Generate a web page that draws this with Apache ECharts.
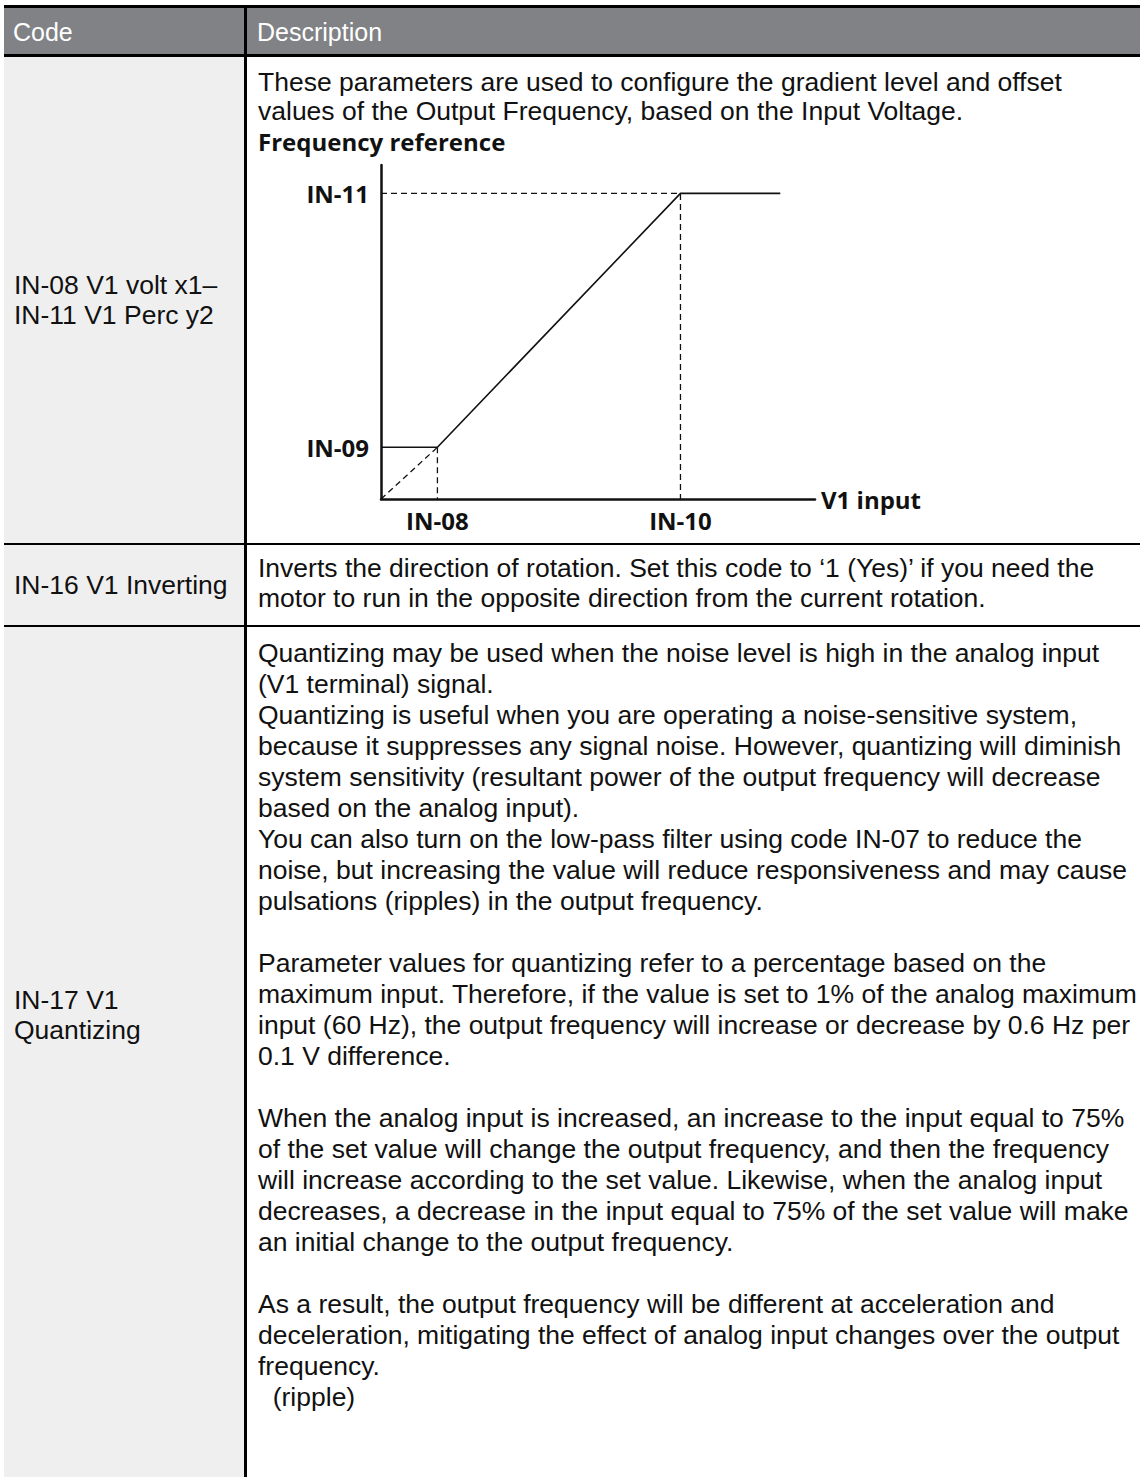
<!DOCTYPE html>
<html><head><meta charset="utf-8">
<script src="https://cdn.jsdelivr.net/npm/echarts@6/dist/echarts.min.js"></script>
<style>
html,body{margin:0;padding:0;background:#fff;}
#page{position:relative;width:1140px;height:1477px;overflow:hidden;background:#fff;font-family:"Liberation Sans",Arial,sans-serif;color:#111;}
.box{position:absolute;}
.t{position:absolute;font-size:26.5px;line-height:26px;white-space:pre;}
.h{position:absolute;font-size:25px;line-height:30px;color:#fff;white-space:pre;}
#chart{position:absolute;left:247px;top:100px;width:893px;height:442px;}
</style></head><body>
<div id="page">
  <div class="box" style="left:4px;top:57px;width:240px;height:1420px;background:#efefef"></div>
  <div class="box" style="left:4px;top:8px;width:1136px;height:47px;background:#808285"></div>
  <div class="box" style="left:4px;top:5px;width:1136px;height:3px;background:#000"></div>
  <div class="box" style="left:4px;top:54px;width:1136px;height:3px;background:#000"></div>
  <div class="box" style="left:4px;top:543px;width:1136px;height:2px;background:#000"></div>
  <div class="box" style="left:4px;top:625px;width:1136px;height:2px;background:#000"></div>
  <div class="box" style="left:244px;top:8px;width:3px;height:1469px;background:#000"></div>
  <div class="h" style="left:13px;top:17px">Code</div>
  <div class="h" style="left:257px;top:17px">Description</div>
  <div id="chart"></div>
  <div id="texts"></div>
</div>
<script>
// ---- chart data ----
const xTickNames = ['IN-08', 'IN-10'];
const xTickValues = [13, 69];
const yTickNames = ['IN-09', 'IN-11'];
const yTickValues = [15.5, 91.5];
const responseLine = [[0, 15.5], [13, 15.5], [69, 91.5], [92, 91.5]];
const offsetGuide = [[0, 0], [13, 15.5]];
const x1Guide = [[13, 15.5], [13, 0]];
const x2y2Guide = [[0, 91.5], [69, 91.5], [69, 0]];
const axisMax = 100;

// ---- table text ----
const row1Code = ['IN-08 V1 volt x1\u2013', 'IN-11 V1 Perc y2'];
const row1Desc = ['These parameters are used to configure the gradient level and offset',
  'values of the Output Frequency, based on the Input Voltage.'];
const row2Code = ['IN-16 V1 Inverting'];
const row2Desc = ['Inverts the direction of rotation. Set this code to \u20181 (Yes)\u2019 if you need the',
  'motor to run in the opposite direction from the current rotation.'];
const row3Code = ['IN-17 V1', 'Quantizing'];
const row3Desc = [
  'Quantizing may be used when the noise level is high in the analog input',
  '(V1 terminal) signal.',
  'Quantizing is useful when you are operating a noise-sensitive system,',
  'because it suppresses any signal noise. However, quantizing will diminish',
  'system sensitivity (resultant power of the output frequency will decrease',
  'based on the analog input).',
  'You can also turn on the low-pass filter using code IN-07 to reduce the',
  'noise, but increasing the value will reduce responsiveness and may cause',
  'pulsations (ripples) in the output frequency.',
  '',
  'Parameter values for quantizing refer to a percentage based on the',
  'maximum input. Therefore, if the value is set to 1% of the analog maximum',
  'input (60 Hz), the output frequency will increase or decrease by 0.6 Hz per',
  '0.1 V difference.',
  '',
  'When the analog input is increased, an increase to the input equal to 75%',
  'of the set value will change the output frequency, and then the frequency',
  'will increase according to the set value. Likewise, when the analog input',
  'decreases, a decrease in the input equal to 75% of the set value will make',
  'an initial change to the output frequency.',
  '',
  'As a result, the output frequency will be different at acceleration and',
  'deceleration, mitigating the effect of analog input changes over the output',
  'frequency.',
  '  (ripple)'
];

// one div per line, each line centred on firstY + i * step
function place(lines, left, firstY, step) {
  const host = document.getElementById('texts');
  lines.forEach((s, i) => {
    if (!s) return;
    const d = document.createElement('div');
    d.className = 't';
    d.style.left = left + 'px';
    d.style.top = (firstY + i * step - 13) + 'px';
    d.textContent = s;
    host.appendChild(d);
  });
}
place(row1Code, 14, 285, 30);
place(row1Desc, 258, 82, 29);
place(row2Code, 14, 585, 30);
place(row2Desc, 258, 568, 29.5);
place(row3Code, 14, 1000, 30);
place(row3Desc, 258, 653, 31);

const labelFont = { color: '#111', fontFamily: 'Open Sans', fontWeight: 'bold', fontSize: 24 };
const solid = { color: '#111', width: 1.6 };
const dashed = { color: '#111', width: 1.3, type: [6, 4] };
const chart = echarts.init(document.getElementById('chart'), null, { renderer: 'svg' });
chart.setOption({
  animation: false,
  title: { text: 'Frequency reference', left: 11, top: 29, padding: 0,
    textStyle: Object.assign({}, labelFont, { fontSize: 24, lineHeight: 24 }) },
  grid: { left: 134, top: 65, width: 434, height: 334 },
  xAxis: {
    type: 'value', min: 0, max: axisMax,
    axisLine: { show: true, lineStyle: { color: '#111', width: 2.5 } },
    axisTick: { show: false }, splitLine: { show: false },
    axisLabel: Object.assign({}, labelFont, { margin: 9,
      customValues: xTickValues,
      formatter: v => xTickNames[xTickValues.indexOf(v)] || '' }),
    name: 'V1 input', nameLocation: 'end', nameGap: 6,
    nameTextStyle: Object.assign({}, labelFont, { fontSize: 24, align: 'left', verticalAlign: 'middle' })
  },
  yAxis: {
    type: 'value', min: 0, max: axisMax,
    axisLine: { show: true, lineStyle: { color: '#111', width: 2.5 } },
    axisTick: { show: false }, splitLine: { show: false },
    axisLabel: Object.assign({}, labelFont, { margin: 12,
      customValues: yTickValues,
      formatter: v => yTickNames[yTickValues.indexOf(v)] || '' })
  },
  series: [
    { type: 'line', data: responseLine, symbol: 'none', lineStyle: solid },
    { type: 'line', data: offsetGuide, symbol: 'none', lineStyle: dashed },
    { type: 'line', data: x1Guide, symbol: 'none', lineStyle: dashed },
    { type: 'line', data: x2y2Guide, symbol: 'none', lineStyle: dashed }
  ]
});
</script>
</body></html>
